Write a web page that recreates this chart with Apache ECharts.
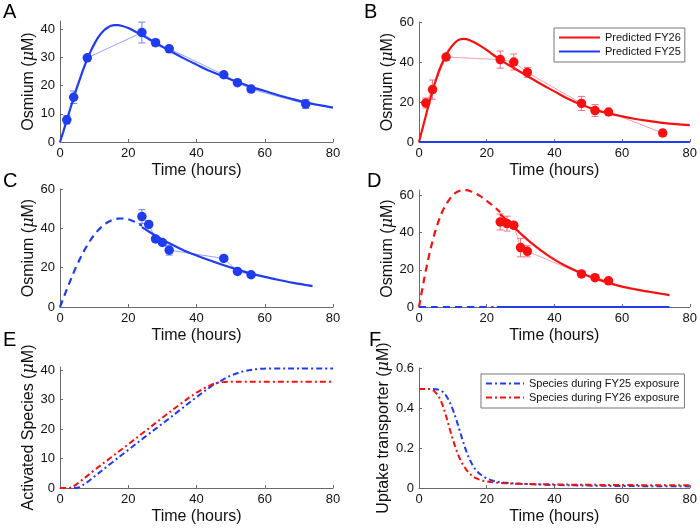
<!DOCTYPE html>
<html><head><meta charset="utf-8">
<script src="https://cdn.jsdelivr.net/npm/echarts@6/dist/echarts.min.js"></script>
<style>html,body{margin:0;padding:0;background:#fff}#c{width:700px;height:529px}</style>
</head><body><div id="c"></div>
<script>
// ---------- tick labels ----------
const xTicks = [0, 20, 40, 60, 80];
const yTicksA = [0, 10, 20, 30, 40];
const yTicksB = [0, 20, 40, 60];
const yTicksC = [0, 20, 40, 60];
const yTicksD = [0, 20, 40, 60];
const yTicksE = [0, 10, 20, 30, 40];
const yTicksF = [0, 0.2, 0.4, 0.6];

// ---------- Panel A (FY25 measured + fit) ----------
const tA = [2, 4, 8, 24, 28, 32, 48, 52, 56, 72];
const yA = [7.9, 15.9, 29.9, 38.9, 35.3, 33.1, 23.9, 21.1, 18.8, 13.5];
const eA = [1.5, 2.2, 0.8, 3.7, 1.2, 1.2, 1.0, 1.0, 1.0, 1.6];
const tAfit = [0,1,2,3,4,5,6,7,8,9,10,11,12,13,14,15,16,17,18,20,22,24,26,28,30,32,36,40,44,48,52,56,60,64,68,72,76,80];
const yAfit = [0,3.8,7.8,11.8,15.7,19.5,23,26.4,29.5,32.3,34.7,36.8,38.5,39.8,40.7,41.3,41.5,41.5,41.3,40.5,39.3,38,36.6,35.2,33.8,32.5,29.9,27.5,25.2,23.2,21.3,19.6,18.1,16.6,15.3,14.1,13.1,12.2];

// ---------- Panel B (FY26 measured + fit) ----------
const tB = [2, 4, 8, 24, 28, 32, 48, 52, 56, 72];
const yB = [19.5, 26.2, 42.5, 41.2, 40, 34.8, 19.3, 15.7, 15, 4.5];
const eB = [2.5, 4.8, 1.5, 4.3, 4, 2.5, 3.5, 3, 1, 1.5];
const tBfit = [0,1,2,3,4,5,6,7,8,9,10,11,12,13,14,15,16,18,20,22,24,26,28,30,32,36,40,44,48,52,56,60,64,68,72,76,80];
const yBfit = [0,6.5,13,19.5,25.5,31,36,40,43.5,46.3,48.5,50.2,51.2,51.6,51.4,50.9,50.1,48.2,46,43.5,41,39,37,35,33,29,25.3,21.6,18.6,16.2,14.3,12.8,11.5,10.5,9.6,8.9,8.4];
const tBzero = [0, 80];
const yBzero = [0, 0];

// ---------- Panel C (FY25 late sampling) ----------
const tC = [24, 26, 28, 30, 32, 48, 52, 56];
const yC = [46, 42, 34.6, 32.8, 28.9, 24.7, 18.1, 16.4];
const eC = [3.5, 1.5, 1.0, 0.8, 2.5, 0.5, 1.5, 0.8];
const tCdash = [0,1,2,3,4,5,6,7,8,9,10,11,12,13,14,15,16,17,18,20,22,24];
const yCdash = [0,4.5,9,13.3,17.5,21.4,25,28.4,31.4,34.2,36.6,38.7,40.5,42,43.1,44,44.6,44.9,45,44.6,43.2,41.3];
const tCfit = [24,26,28,30,32,36,40,44,48,52,56,60,64,68,72,74];
const yCfit = [40.6,38.4,36.3,34.3,32.4,29,26.2,23.6,21.2,19,17,15.3,13.8,12.4,11.2,10.6];

// ---------- Panel D (FY26 late sampling) ----------
const tD = [24, 26, 28, 30, 32, 48, 52, 56];
const yD = [45.8, 44.9, 44, 32, 30, 17.8, 15.8, 14.1];
const eD = [4.3, 4, 1.5, 5, 3, 0.8, 0.8, 0.8];
const tDdash = [0,1,2,3,4,5,6,7,8,9,10,11,12,13,14,15,16,18,20,22,24];
const yDdash = [0,10,19.5,28,35.5,42,47.3,51.8,55.3,58,60.2,61.7,62.6,63,62.9,62.5,61.8,59.8,57.2,54.3,51];
const tDfit = [24,26,28,30,32,36,40,44,48,52,56,60,64,68,72,74];
const yDfit = [50,46.5,43,39.6,36.3,30.5,25.5,21.5,18.2,15.4,13,11,9.5,8.2,7,6.4];
const tDzeroDash = [0, 22];
const tDzeroSolid = [23, 74];
const yDzero = [0, 0];

// ---------- Panel E (activated species) ----------
const tE = [0,2,3,4,5,6,8,10,15,20,25,30,35,40,44,46,48,50,54,58,62,70,80];
const yEred = [0,0,0.1,0.6,1.4,2.3,4.1,6,10.4,14.8,19.3,23.8,28.2,32.3,34.8,35.6,35.9,36,36,36,36,36,36];
const yEblue = [0,0,0,0,0.1,0.5,2,3.8,8.4,12.9,17.4,21.8,26.3,30.8,34.2,35.6,36.9,38.1,39.6,40.3,40.5,40.5,40.5];

// ---------- Panel F (uptake transporter) ----------
const tF = [0,3,4,5,6,7,8,9,10,11,12,13,14,15,16,17,18,20,22,25,30,40,50,60,70,80];
const yFred = [0.495,0.495,0.49,0.476,0.452,0.413,0.36,0.3,0.243,0.192,0.149,0.116,0.091,0.072,0.058,0.048,0.041,0.033,0.028,0.024,0.021,0.018,0.016,0.015,0.014,0.014];
const yFblue = [0.495,0.495,0.495,0.494,0.49,0.481,0.462,0.432,0.392,0.343,0.288,0.233,0.183,0.142,0.11,0.087,0.07,0.048,0.036,0.027,0.021,0.015,0.012,0.01,0.009,0.008];

// ---------- styling ----------
const FONT = 'Liberation Sans, Arial, Helvetica, sans-serif';
const BLUE = '#1f3cf0', RED = '#f81010';
const BLUE_ERR = '#6f80f2', RED_ERR = '#f07080';
const BLUE_THIN = '#97a3f5', RED_THIN = '#f5a0ab';
const AXIS = '#6a6a6a';

const zip = (xs, ys) => xs.map((x, i) => [x, ys[i]]);

const grids = [
  {left: 60, right: 367, top: 21, bottom: 387},
  {left: 419, right: 8, top: 22, bottom: 387},
  {left: 60, right: 367, top: 189, bottom: 222},
  {left: 419, right: 8, top: 190, bottom: 222},
  {left: 60, right: 367, top: 367, bottom: 41},
  {left: 419, right: 8, top: 368, bottom: 41}
];

function xAx(i) {
  return {
    type: 'value', gridIndex: i, min: 0, max: 80, interval: 20,
    axisLine: {show: true, onZero: false, lineStyle: {color: AXIS, width: 1}},
    axisTick: {show: true, inside: true, length: 3, customValues: xTicks, lineStyle: {color: AXIS}},
    axisLabel: {customValues: xTicks, color: '#111', fontSize: 13, fontFamily: FONT, margin: 5},
    splitLine: {show: false},
    name: 'Time (hours)', nameLocation: 'middle', nameGap: 21,
    nameTextStyle: {fontSize: 16, color: '#111', fontFamily: FONT}
  };
}
function yAx(i, max, ticks, name, gap) {
  return {
    type: 'value', gridIndex: i, min: 0, max: max,
    axisLine: {show: true, lineStyle: {color: AXIS, width: 1}},
    axisTick: {show: true, inside: true, length: 3, customValues: ticks, lineStyle: {color: AXIS}},
    axisLabel: {customValues: ticks, color: '#111', fontSize: 13, fontFamily: FONT, margin: 5},
    splitLine: {show: false},
    name: '{n|' + name + ' (}{i|μ}{n|M)}', nameLocation: 'middle', nameGap: gap,
    nameTextStyle: {fontSize: 16, color: '#111', fontFamily: FONT,
      rich: {n: {fontSize: 16, fontFamily: FONT, color: '#111'}, i: {fontSize: 16, fontStyle: 'italic', fontFamily: 'DejaVu Serif, serif', color: '#111'}}}
  };
}

function curve(i, name, xs, ys, color, width, type) {
  return {type: 'line', name: name, xAxisIndex: i, yAxisIndex: i, data: zip(xs, ys),
    smooth: 0.35, symbol: 'none', clip: false, z: 4,
    lineStyle: {color: color, width: width, type: type || 'solid'}, itemStyle: {color: color}};
}
function thin(i, xs, ys, color) {
  return {type: 'line', xAxisIndex: i, yAxisIndex: i, data: zip(xs, ys), symbol: 'none',
    clip: false, z: 2, lineStyle: {color: color, width: 1}, silent: true};
}
function dots(i, xs, ys, color) {
  return {type: 'scatter', xAxisIndex: i, yAxisIndex: i, data: zip(xs, ys), symbol: 'circle',
    symbolSize: 9.5, clip: false, z: 5, itemStyle: {color: color, opacity: 1}};
}
function errs(i, xs, ys, es, color) {
  return {type: 'custom', xAxisIndex: i, yAxisIndex: i, clip: false, z: 3,
    data: xs.map((x, k) => [x, ys[k] - es[k], ys[k] + es[k]]),
    renderItem: (p, api) => {
      const lo = api.coord([api.value(0), api.value(1)]);
      const hi = api.coord([api.value(0), api.value(2)]);
      const w = 3.5, st = {stroke: color, lineWidth: 1};
      return {type: 'group', children: [
        {type: 'line', shape: {x1: lo[0], y1: lo[1], x2: hi[0], y2: hi[1]}, style: st},
        {type: 'line', shape: {x1: lo[0] - w, y1: lo[1], x2: lo[0] + w, y2: lo[1]}, style: st},
        {type: 'line', shape: {x1: hi[0] - w, y1: hi[1], x2: hi[0] + w, y2: hi[1]}, style: st}
      ]};
    }};
}

const DASH = [7, 5];
const DASHDOT = [6, 3, 2, 3];

const series = [
  // A
  thin(0, tA, yA, BLUE_THIN),
  curve(0, 'A fit', tAfit, yAfit, BLUE, 2.2),
  errs(0, tA, yA, eA, BLUE_ERR),
  dots(0, tA, yA, BLUE),
  // B
  thin(1, tB, yB, RED_THIN),
  curve(1, 'Predicted FY26', tBfit, yBfit, RED, 2.2),
  curve(1, 'Predicted FY25', tBzero, yBzero, BLUE, 2.2),
  errs(1, tB, yB, eB, RED_ERR),
  dots(1, tB, yB, RED),
  // C
  thin(2, tC, yC, BLUE_THIN),
  curve(2, 'C dash', tCdash, yCdash, BLUE, 2.2, DASH),
  curve(2, 'C fit', tCfit, yCfit, BLUE, 2.2),
  errs(2, tC, yC, eC, BLUE_ERR),
  dots(2, tC, yC, BLUE),
  // D
  thin(3, tD, yD, RED_THIN),
  curve(3, 'D dash', tDdash, yDdash, RED, 2.2, DASH),
  curve(3, 'D fit', tDfit, yDfit, RED, 2.2),
  curve(3, 'D zero dash', tDzeroDash, yDzero, BLUE, 2.2, DASH),
  curve(3, 'D zero', tDzeroSolid, yDzero, BLUE, 2.2),
  errs(3, tD, yD, eD, RED_ERR),
  dots(3, tD, yD, RED),
  // E
  curve(4, 'E blue', tE, yEblue, BLUE, 2, DASHDOT),
  curve(4, 'E red', tE, yEred, RED, 2, DASHDOT),
  // F
  curve(5, 'Species during FY25 exposure', tF, yFblue, BLUE, 2, DASHDOT),
  curve(5, 'Species during FY26 exposure', tF, yFred, RED, 2, DASHDOT)
];

const legendBase = {
  orient: 'vertical', backgroundColor: '#fff', borderColor: '#777', borderWidth: 1,
  borderRadius: 0, itemGap: 3, itemHeight: 11,
  itemStyle: {opacity: 0},
  textStyle: {fontSize: 11, color: '#111', fontFamily: FONT},
  selectedMode: false
};

const labels = ['A', 'B', 'C', 'D', 'E', 'F'];
const labelPos = [[3, 2], [364, 2], [3, 171], [367, 171], [3, 330], [369, 330]];

const option = {
  animation: false,
  backgroundColor: '#fff',
  grid: grids,
  xAxis: [0, 1, 2, 3, 4, 5].map(xAx),
  yAxis: [
    yAx(0, 43, yTicksA, 'Osmium', 19),
    yAx(1, 60, yTicksB, 'Osmium', 19),
    yAx(2, 60, yTicksC, 'Osmium', 19),
    yAx(3, 63, yTicksD, 'Osmium', 19),
    yAx(4, 41, yTicksE, 'Activated Species', 15),
    yAx(5, 0.6, yTicksF, 'Uptake transporter', 17)
  ],
  legend: [
    Object.assign({}, legendBase, {left: 554, top: 28, padding: [4, 4, 5, 4], itemWidth: 41,
      data: ['Predicted FY26', 'Predicted FY25']}),
    Object.assign({}, legendBase, {left: 481, top: 374, padding: [4, 5, 5, 4], itemWidth: 38,
      data: ['Species during FY25 exposure', 'Species during FY26 exposure']})
  ],
  graphic: labels.map((t, k) => ({type: 'text', left: labelPos[k][0], top: labelPos[k][1],
    style: {text: t, fontSize: 20, fontFamily: FONT, fill: '#000'}})),
  series: series
};

echarts.init(document.getElementById('c')).setOption(option);
</script>
</body></html>
